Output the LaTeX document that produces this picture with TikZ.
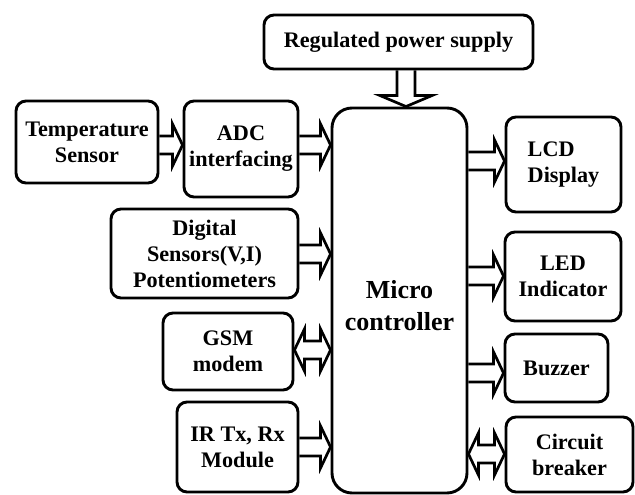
\documentclass[tikz,border=0pt]{standalone}
\usepackage{fontspec}
\setmainfont{Liberation Serif}
\usetikzlibrary{calc}
\tikzset{
  blk/.style={draw, line width=2.9pt, rounded corners=10pt, align=center, inner sep=0pt,
    font=\fontsize{22.2}{26}\selectfont\bfseries},
  arr/.style={draw, line width=2.7pt, line join=miter},
}
% right-pointing hollow block arrow from #1.east to #2.west at height #3
\newcommand\rarrow[3]{%
  \draw[arr] let \p1=(#1.east |- 0,#3), \p2=(#2.west |- 0,#3) in
    (\x1,\y1+9pt) -- (\x2-10pt,\y1+9pt) -- (\x2-10pt,\y1+21pt) -- (\x2,\y1)
    -- (\x2-10pt,\y1-21pt) -- (\x2-10pt,\y1-9pt) -- (\x1,\y1-9pt);}
% double-headed hollow block arrow between #1.east and #2.west at height #3
\newcommand\barrow[3]{%
  \draw[arr] let \p1=(#1.east |- 0,#3), \p2=(#2.west |- 0,#3) in
    (\x1,\y1) -- (\x1+10pt,\y1+21pt) -- (\x1+10pt,\y1+9pt) -- (\x2-10pt,\y1+9pt)
    -- (\x2-10pt,\y1+21pt) -- (\x2,\y1) -- (\x2-10pt,\y1-21pt) -- (\x2-10pt,\y1-9pt)
    -- (\x1+10pt,\y1-9pt) -- (\x1+10pt,\y1-21pt) -- cycle;}
\begin{document}
\begin{tikzpicture}[x=1pt,y=-1pt]
\useasboundingbox (0,0) rectangle (635,495);
\node[blk, minimum width=269pt, minimum height=54pt] (rps) at (398.5,42) {Regulated power supply};
\node[blk, minimum width=142pt, minimum height=82pt] (temp) at (87,142) {Temperature\\Sensor};
\node[blk, minimum width=114pt, minimum height=96pt] (adc) at (241,149) {ADC\\interfacing};
\node[blk, rounded corners=20pt, minimum width=135pt, minimum height=385pt,
      label={[yshift=-5pt, align=center, font=\fontsize{26}{32}\selectfont\bfseries]center:Micro\\controller}] (mc) at (399.5,300.5) {};
\node[blk, align=left, minimum width=115pt, minimum height=95pt] (lcd) at (563.5,164.5) {LCD\\Display};
\node[blk, minimum width=187pt, minimum height=89pt] (dig) at (204.5,253.5) {Digital\\Sensors(V,I)\\Potentiometers};
\node[blk, minimum width=116pt, minimum height=89pt] (led) at (563,276.5) {LED\\Indicator};
\node[blk, minimum width=130pt, minimum height=77pt] (gsm) at (228,351.5) {GSM\\modem};
\node[blk, minimum width=103pt, minimum height=68pt] (buz) at (556.5,368) {Buzzer};
\node[blk, minimum width=121pt, minimum height=90pt] (ir) at (237.5,447) {IR Tx, Rx\\Module};
\node[blk, minimum width=127pt, minimum height=75pt] (cb) at (569.5,454.5) {Circuit\\breaker};
% power supply arrow
\draw[arr] let \p1=(rps.south -| 406,0), \p2=(mc.north -| 406,0) in
  (\x1-9pt,\y1) -- (\x1-9pt,\y2+11pt) -- (\x1-26pt,\y2+11pt) -- (\x1,\y2)
  -- (\x1+26pt,\y2+11pt) -- (\x1+9pt,\y2+11pt) -- (\x1+9pt,\y1);
\rarrow{temp}{adc}{145}
\rarrow{adc}{mc}{145}
\rarrow{dig}{mc}{254}
\barrow{gsm}{mc}{350}
\rarrow{ir}{mc}{447}
\rarrow{mc}{lcd}{161}
\rarrow{mc}{led}{276}
\rarrow{mc}{buz}{373}
\barrow{mc}{cb}{454}
\end{tikzpicture}
\end{document}
